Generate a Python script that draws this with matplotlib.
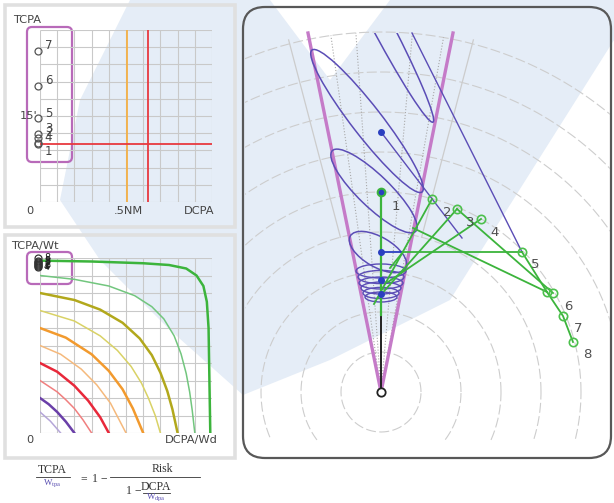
import numpy as np
import matplotlib
matplotlib.use("Agg")
import matplotlib.pyplot as plt
from matplotlib.patches import FancyBboxPatch, Ellipse, Polygon, Rectangle

W, H = 614, 503
SANS = ["Liberation Sans Narrow", "DejaVu Sans"]
SERIF = ["Liberation Serif", "DejaVu Serif"]
TXT = "#444444"

# ---- panel 1: TCPA / DCPA grid (grid units 0..10) ----
p1_num = [1, 2, 3, 4, 5, 6, 7]
p1_tcpa = [3.36, 3.73, 3.98, 3.45, 4.86, 6.74, 8.8]
p1_dcpa = [-0.12] * 7
p1_orange_x = 5.05
p1_red_x = 6.27
p1_red_y = 3.36

# ---- panel 2: risk contours (DCPA/Wd, TCPA/Wt) ----
risk_x = [
    [0, .30, .60, .75, .85, .91, .95, .97, .98, .985, .99],
    [0, .2, .4, .55, .65, .72, .78, .82, .85, .87, .885, .9],
    [0, .2, .35, .48, .58, .65, .7, .74, .77, .8],
    [0, .2, .35, .45, .53, .59, .63, .67, .7],
    [0, .15, .3, .4, .48, .54, .6],
    [0, .12, .24, .33, .41, .5],
    [0, .1, .2, .28, .35, .4],
    [0, .1, .15, .2, .25, .3],
    [0, .05, .1, .15, .2],
    [0, .06, .12],
]
risk_y = [
    [.985, .98, .97, .96, .94, .90, .84, .75, .60, .30, 0],
    [.9, .878, .84, .785, .722, .652, .555, .452, .34, .235, .13, 0],
    [.8, .76, .705, .63, .54, .445, .345, .24, .135, 0],
    [.7, .64, .555, .472, .38, .285, .2, .1, 0],
    [.6, .545, .45, .355, .25, .14, 0],
    [.5, .45, .365, .275, .17, 0],
    [.4, .35, .27, .185, .09, 0],
    [.3, .235, .19, .14, .075, 0],
    [.2, .165, .12, .065, 0],
    [.12, .068, 0],
]
risk_colors = ["#3cb43c", "#72c67e", "#b2a81c", "#d9d266", "#f29a2e",
               "#f5b97c", "#e8283a", "#f07f7f", "#6a3fa8", "#b5a6d8"]
risk_lw = [1.8, 1.1, 1.8, 1.1, 1.8, 1.1, 1.8, 1.1, 1.8, 1.1]
p2_num = [1, 2, 3, 4, 5, 6, 7, 8]
p2_y = [0.955, 0.965, 0.975, 0.95, 0.985, 0.96, 0.97, 1.0]
p2_x = [-0.012] * 8

# ---- right panel: relative plot (units = ring spacing, own ship at 0,0) ----
ring_r = [1, 2, 3, 4, 5, 6, 7, 8, 9]
v_left = (-1.825, 8.975)
v_right = (1.8, 8.975)
dot_y = [6.5, 3.5, 2.8, 2.45]
green_dot_y = 5.0
tgt_x = [1.275, 1.9, 2.5, 3.525, 4.15, 4.3, 4.55, 4.8]
tgt_y = [4.825, 4.575, 4.325, 3.5, 2.5, 2.475, 1.9, 1.25]
lab_txt = ["1", "2", "3", "4", "5", "6", "7", "8"]
lab_x = [0.375, 1.65, 2.225, 2.85, 3.85, 4.675, 4.925, 5.15]
lab_y = [4.625, 4.475, 4.25, 3.975, 3.175, 2.125, 1.6, 0.925]
# green lines: (x0, y0, x1, y1)
green_segs = [
    (1.275, 4.825, -0.175, 2.2),
    (1.9, 4.575, -0.075, 2.35),
    (2.5, 4.325, 0.175, 2.75),
    (0.55, 3.5, 3.525, 3.5),
    (0.55, 3.5, 0.225, 3.1),
    (1.9, 4.575, 4.3, 2.475),
    (0.8, 4.1, 4.15, 2.5),
]
track_x = [3.525, 4.15, 4.55, 4.8]
track_y = [3.5, 2.5, 1.9, 1.25]
purple_segs = [
    (0.775, 8.975, 3.525, 3.5),
    (0.0, 6.5, 2.025, 3.85),
]
# ellipses: x, y, major, minor, angle
ell = [
    (-0.35, 6.775, 4.49, 0.75, -52.2),
    (-0.175, 5.025, 2.9, 0.8, -44),
    (-0.075, 3.5, 1.6, 0.75, -30),
    (-0.1, 9.4, 6.0, 0.5, -62.2),
]
coil_y = [3.025, 2.875, 2.725, 2.6, 2.475, 2.375]
coil_w = [1.25, 1.15, 1.1, 1.0, 0.9, 0.8]
coil_h = [0.35, 0.33, 0.3, 0.3, 0.28, 0.25]


def px_axes(x0, y0, x1, y1):
    a = fig.add_axes([x0 / W, 1 - y1 / H, (x1 - x0) / W, (y1 - y0) / H])
    a.set_facecolor("none")
    a.axis("off")
    return a


fig = plt.figure(figsize=(W / 100, H / 100), dpi=100)

# background layer in pixel coordinates: watermark, frames, formula
bg = fig.add_axes([0, 0, 1, 1])
bg.set_xlim(0, W)
bg.set_ylim(H, 0)
bg.axis("off")
wm = [(130, 0), (270, 0), (330, 80), (390, 0), (614, 0), (614, 40), (450, 300),
      (330, 360), (243, 395), (170, 330), (100, 260), (60, 200), (80, 100)]
bg.add_patch(Polygon(wm, closed=True, facecolor="#e5edf7", edgecolor="none", zorder=0))

for (x0, y0, w, h) in [(5, 5, 230, 222), (5, 235, 230, 223)]:
    bg.add_patch(Rectangle((x0, y0), w, h, facecolor="none", edgecolor="#e0e0e0", lw=2.6))
bg.add_patch(FancyBboxPatch((243, 7), 368, 451, boxstyle="round,pad=0,rounding_size=22",
                            facecolor="none", edgecolor="#585858", lw=1.6, zorder=5))
for (x0, y0, x1, y1) in [(27, 27, 72, 162), (27, 252, 72, 284)]:
    bg.add_patch(FancyBboxPatch((x0, y0), x1 - x0, y1 - y0, boxstyle="round,pad=0,rounding_size=5",
                                facecolor="none", edgecolor="#b86ab9", lw=1.6, zorder=6))

# formula
fk = dict(family=SERIF, fontsize=8.5, color="#333333", ha="center", va="center")
wk = dict(family=SERIF, fontsize=6.5, color="#5a4fb2", ha="center", va="center")
bg.text(52, 470, "TCPA", **fk)
bg.plot([36, 70], [477, 477], color="#333333", lw=0.6)
bg.text(52, 484, r"W$_{\mathregular{tpa}}$", **wk)
bg.text(84, 479, "=", **fk)
bg.text(100, 479, "1 \u2212", **fk)
bg.text(162, 469, "Risk", **fk)
bg.plot([110, 200], [477, 477], color="#333333", lw=0.6)
bg.text(134, 491, "1 \u2212", **fk)
bg.text(156, 487, "DCPA", **fk)
bg.plot([143, 170], [493, 493], color="#333333", lw=0.6)
bg.text(156, 498, r"W$_{\mathregular{dpa}}$", **wk)

# ---- panel 1 ----
ax1 = px_axes(40, 30, 212, 202)
ax1.set_xlim(0, 10)
ax1.set_ylim(0, 10)
ax1.vlines(range(11), 0, 10, color="#c9c9c9", lw=0.8)
ax1.hlines(range(11), 0, 10, color="#c9c9c9", lw=0.8)
ax1.vlines(p1_orange_x, 0, 10, color="#f4b046", lw=1.3)
ax1.vlines(p1_red_x, 0, 10, color="#e8393f", lw=1.3)
ax1.hlines(p1_red_y, 0, 10, color="#e8393f", lw=1.3)
ax1.plot(p1_dcpa, p1_tcpa, "o", ms=5, mfc="none", mec="#555555", mew=0.9, clip_on=False)
for n, x, y in zip(p1_num, p1_dcpa, p1_tcpa):
    dy = -0.4 if n == 1 else 0.3
    ax1.text(x + 0.4, y + dy, str(n), fontsize=8.5, family=SANS, color=TXT,
             ha="left", va="center", clip_on=False)
lk = dict(fontsize=8.2, family=SANS, color=TXT, va="center", clip_on=False)
ax1.text(-1.57, 10.6, "TCPA", ha="left", **lk)
ax1.text(-0.58, -0.54, "0", ha="center", **lk)
ax1.text(5.12, -0.54, ".5NM", ha="center", **lk)
ax1.text(9.26, -0.54, "DCPA", ha="center", **lk)
ax1.text(-0.15, 5.0, "15'", ha="right", **lk)

# ---- panel 2 ----
ax2 = px_axes(40, 258, 212, 433)
ax2.set_xlim(0, 1)
ax2.set_ylim(0, 1)
ticks = np.linspace(0, 1, 11)
ax2.vlines(ticks, 0, 1, color="#c9c9c9", lw=0.8)
ax2.hlines(ticks, 0, 1, color="#c9c9c9", lw=0.8)
for xs, ys, c, lw in zip(risk_x, risk_y, risk_colors, risk_lw):
    ax2.plot(xs, ys, color=c, lw=lw, solid_joinstyle="round")
ax2.plot(p2_x, p2_y, "o", ms=5, mfc="none", mec="#333333", mew=0.9, clip_on=False)
for n, x, y in zip(p2_num, p2_x, p2_y):
    ax2.text(x + 0.035, y, str(n), fontsize=7, family=SANS, color="#222222",
             ha="left", va="center", clip_on=False)
ax2.text(-0.169, 1.066, "TCPA/Wt", ha="left", **lk)
ax2.text(-0.058, -0.04, "0", ha="center", **lk)
ax2.text(0.88, -0.04, "DCPA/Wd", ha="center", **lk)

# ---- right panel ----
ax3 = px_axes(245, 9, 610, 456)
ax3.set_xlim(-3.4, 5.725)
ax3.set_ylim(-1.6, 9.575)
th = np.linspace(0, 2 * np.pi, 720)
for r in ring_r:
    x, y = r * np.cos(th), r * np.sin(th)
    y = np.where(y < -1.2, np.nan, y)
    ax3.plot(x, y, color="#cdcdcd", lw=0.8, ls=(0, (9, 3)), zorder=1)
for a in [-14.7, 14.7]:
    t = np.radians(90 - a)
    ax3.plot([4 * np.cos(t), 9.1 * np.cos(t)], [4 * np.sin(t), 9.1 * np.sin(t)],
             color="#cccccc", lw=0.9, zorder=1)
for a in [-8, -4, 5, 10]:
    t = np.radians(90 - a)
    ax3.plot([0.3 * np.cos(t), 9.0 * np.cos(t)], [0.3 * np.sin(t), 9.0 * np.sin(t)],
             color="#a8a8a8", lw=0.8, ls=":", zorder=1)

ax3.plot([v_left[0], 0, v_right[0]], [v_left[1], 0, v_right[1]],
         color="#c57bc8", lw=2.4, zorder=3, solid_joinstyle="miter")

clip = Rectangle((-3.4, -1.6), 9.2, 10.575, transform=ax3.transData)
for (x, y, w, h, a) in ell:
    e = Ellipse((x, y), w, h, angle=a, facecolor="none", edgecolor="#5b4db6", lw=1.1, zorder=4)
    ax3.add_patch(e)
    e.set_clip_path(clip)
for y, w, h in zip(coil_y, coil_w, coil_h):
    ax3.add_patch(Ellipse((0, y), w, h, facecolor="none", edgecolor="#5b4db6", lw=1.0, zorder=4))
for (x0, y0, x1, y1) in purple_segs:
    ax3.plot([x0, x1], [y0, y1], color="#5b4db6", lw=1.0, zorder=4)

ax3.plot([0, 0], [0, 1.925], color="#222222", lw=1.4, zorder=5)
ax3.plot([0, 0], [1.925, green_dot_y], color="#3cb43c", lw=1.6, zorder=5)
ax3.plot([0, 0.55], [3.5, 3.5], color="#2a3fc0", lw=1.3, zorder=5)
for (x0, y0, x1, y1) in green_segs:
    ax3.plot([x0, x1], [y0, y1], color="#3cb43c", lw=1.3, zorder=5)
ax3.plot(track_x, track_y, color="#3cb43c", lw=1.3, zorder=5)
ax3.plot(tgt_x, tgt_y, "o", ms=6, mfc="none", mec="#4cc04c", mew=1.2, zorder=6)
ax3.plot([0] * len(dot_y), dot_y, "o", ms=4, color="#2a3fc0", zorder=6)
ax3.plot([0], [green_dot_y], "o", ms=6, color="#3cb43c", zorder=6)
ax3.plot([0], [green_dot_y], "o", ms=3, color="#2a3fc0", zorder=7)
ax3.plot([0], [0], "o", ms=6, mfc="white", mec="#222222", mew=1.3, zorder=7)
for t, x, y in zip(lab_txt, lab_x, lab_y):
    ax3.text(x, y, t, fontsize=9.5, family=SANS, color="#505050", ha="center", va="center", zorder=8)

fig.savefig("out.png", dpi=100)
